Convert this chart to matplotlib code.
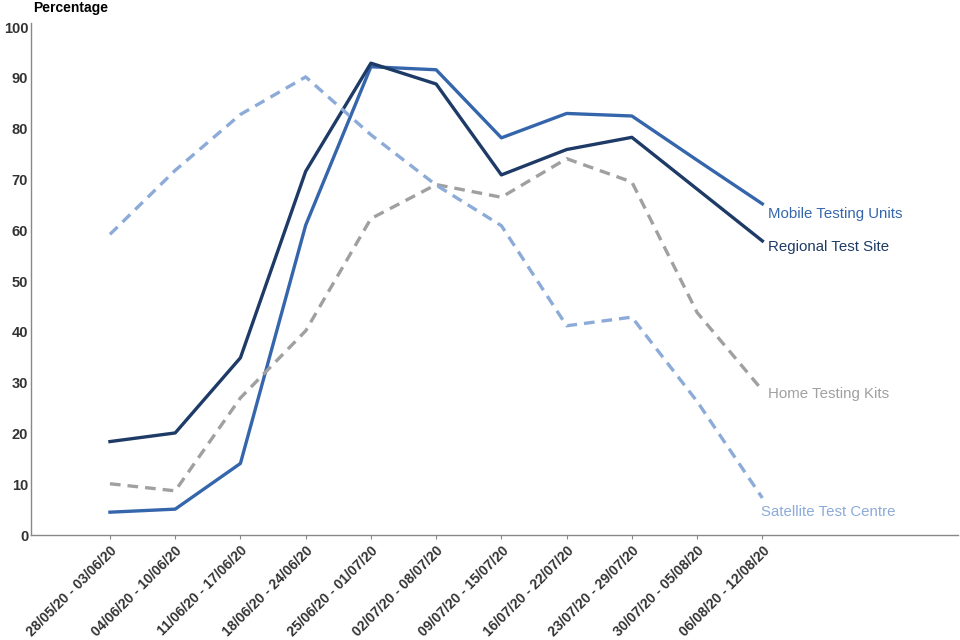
import matplotlib
matplotlib.use("Agg")
import matplotlib.pyplot as plt

plt.rcParams["font.family"] = ["Liberation Sans", "DejaVu Sans"]

weeks = ["28/05/20 - 03/06/20", "04/06/20 - 10/06/20", "11/06/20 - 17/06/20",
         "18/06/20 - 24/06/20", "25/06/20 - 01/07/20", "02/07/20 - 08/07/20",
         "09/07/20 - 15/07/20", "16/07/20 - 22/07/20", "23/07/20 - 29/07/20",
         "30/07/20 - 05/08/20", "06/08/20 - 12/08/20"]

regional = [18.4, 20.1, 34.9, 71.6, 92.9, 88.8, 70.9, 75.9, 78.3, 68.1, 57.9]
mobile = [4.5, 5.1, 14.1, 61.0, 92.2, 91.6, 78.2, 83.0, 82.5, 73.8, 65.2]
home = [10.1, 8.7, 27.0, 40.2, 62.3, 69.0, 66.5, 74.1, 69.5, 43.8, 28.5]
satellite = [59.2, 71.8, 82.8, 90.2, 78.8, 68.9, 60.9, 41.2, 42.9, 26.3, 7.3]

series = [
    ("Mobile Testing Units", mobile, "#3566AC", "-", (4, -7)),
    ("Regional Test Site", regional, "#1E3A66", "-", (4, -4)),
    ("Home Testing Kits", home, "#A0A0A0", (0, (3.2, 2.1)), (4, -3)),
    ("Satellite Test Centre", satellite, "#8CABD8", (0, (3.2, 2.1)), (-1, -10)),
]

fig = plt.figure(figsize=(9.6, 6.4), dpi=100)
ax = fig.add_axes([0.0323, 0.164, 0.9657, 0.8])

x = list(range(len(weeks)))
for name, vals, col, ls, off in series:
    ax.plot(x, vals, color=col, lw=2.4, linestyle=ls)
    ax.annotate(name, (x[-1], vals[-1]), xytext=off, textcoords="offset points",
                color=col, fontsize=10.8, ha="left", va="center")

ax.set_xlim(-1.21, 13.0)
ax.set_ylim(0, 100.8)
ax.set_yticks(range(0, 101, 10))
ax.set_xticks(x)
ax.set_xticklabels(weeks, rotation=45, ha="right", rotation_mode="anchor")

for lab in ax.get_xticklabels():
    lab.set_fontweight("bold")
    lab.set_color("#333333")
    lab.set_fontsize(10.1)
for lab in ax.get_yticklabels():
    lab.set_fontweight("bold")
    lab.set_color("#333333")
    lab.set_fontsize(10.5)

ax.tick_params(axis="y", length=0, pad=2)
ax.tick_params(axis="x", length=3, color="#888888", pad=3)
for s in ["top", "right"]:
    ax.spines[s].set_visible(False)
for s in ["left", "bottom"]:
    ax.spines[s].set_color("#888888")
    ax.spines[s].set_linewidth(1)

fig.text(0.034, 0.988, "Percentage", fontsize=10, fontweight="bold",
         ha="left", va="center", color="black")

fig.savefig("out.png", dpi=100)
